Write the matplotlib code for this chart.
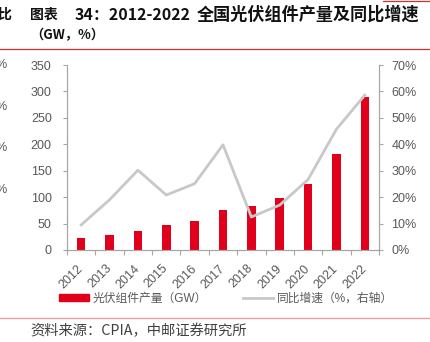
import numpy as np
import matplotlib
matplotlib.use('agg')
from matplotlib import pyplot as plt
from matplotlib.ticker import FuncFormatter, FixedLocator
from matplotlib.lines import Line2D

plt.rcParams['font.family'] = ['Liberation Sans', 'Noto Sans CJK SC', 'DejaVu Sans']

years = ['2012', '2013', '2014', '2015', '2016', '2017', '2018', '2019', '2020', '2021', '2022']
output_gw = [23.5, 27.7, 35.8, 46.5, 54, 75.4, 84, 98.7, 125, 182, 289]
growth_pct = [9.5, 19.0, 30.2, 20.8, 25.1, 39.8, 12.5, 17.0, 26.7, 45.7, 58.6]

red = '#E0001B'
grey_line = '#C8C8C8'
axis_grey = '#A6A6A6'
txt_grey = '#595959'
cjk = ['Noto Sans CJK SC', 'DejaVu Sans']

W, H = 430, 342
fig = plt.figure(figsize=(W / 100, H / 100), dpi=100)
ax = fig.add_axes([67 / W, 1 - 250 / H, 312 / W, 185 / H])

x = np.arange(len(years))
ax.bar(x, output_gw, width=0.3, color=red, zorder=2)
ax.set_xlim(-0.5, len(years) - 0.5)
ax.set_ylim(0, 350)
ax.set_yticks(np.arange(0, 351, 50))

ax.set_xticks(x)
ax.set_xticklabels(years, rotation=45, ha='right', va='center', rotation_mode='anchor')
ax.xaxis.set_minor_locator(FixedLocator(np.arange(-0.5, len(years), 1.0)))
ax.tick_params(axis='x', which='major', length=0, pad=12, labelsize=9, labelcolor=txt_grey)
ax.tick_params(axis='x', which='minor', length=3.5, width=0.8, color=axis_grey, direction='out')
ax.tick_params(axis='y', length=3, width=0.8, color=axis_grey, labelsize=9, labelcolor=txt_grey, pad=8)

for s in ['left', 'bottom', 'right']:
    ax.spines[s].set_color(axis_grey)
    ax.spines[s].set_linewidth(0.8)
ax.spines['top'].set_visible(False)

ax2 = ax.twinx()
ax2.plot(x, np.array(growth_pct) / 100, color=grey_line, lw=2)
ax2.set_ylim(0, 0.7)
ax2.set_yticks(np.arange(0, 0.71, 0.1))
ax2.yaxis.set_major_formatter(FuncFormatter(lambda v, p: '{:.0f}%'.format(v * 100)))
ax2.tick_params(axis='y', length=3, width=0.8, color=axis_grey, labelsize=9, labelcolor=txt_grey, pad=6)
for s in ['left', 'bottom', 'right']:
    ax2.spines[s].set_color(axis_grey)
    ax2.spines[s].set_linewidth(0.8)
ax2.spines['top'].set_visible(False)

handles = [plt.Rectangle((0, 0), 1, 1, color=red),
           Line2D([0], [0], color=grey_line, lw=2)]
fig.legend(handles, ['光伏组件产量（GW）', '同比增速（%，右轴）'], loc='center left',
           bbox_to_anchor=(48 / W, 1 - 299 / H), ncol=2, frameon=False, fontsize=8.5,
           handlelength=2.6, handleheight=0.5, columnspacing=3.0, handletextpad=0.3,
           labelcolor=txt_grey)

# title block
fig.text(30 / W, 1 - 15 / H, '图表', family=cjk, fontweight='bold', fontsize=10,
         color='#111111', va='center', ha='left')
fig.text(75 / W, 1 - 15 / H, '34：2012-2022', family=cjk, fontweight='bold', fontsize=11.5,
         color='#111111', va='center', ha='left')
fig.text(197 / W, 1 - 15 / H, '全国光伏组件产量及同比增速', family=cjk, fontweight='bold',
         fontsize=12.3, color='#111111', va='center', ha='left')
fig.text(30 / W, 1 - 35 / H, '（GW，%）', family=cjk, fontweight='bold', fontsize=9.5,
         color='#111111', va='center', ha='left')
fig.add_artist(Line2D([0, 1], [1 - 48.5 / H, 1 - 48.5 / H], color='#D03030', lw=0.9))
fig.add_artist(Line2D([383 / W, 1], [1 - 0.5 / H, 1 - 0.5 / H], color='#D03030', lw=0.9))
fig.add_artist(Line2D([0, 1], [1 - 318 / H, 1 - 318 / H], color='#E8A0A0', lw=1.0))
fig.text(30 / W, 1 - 331 / H, '资料来源：CPIA，中邮证券研究所', family=cjk,
         fontsize=10.3, color='#404040', va='center', ha='left')

# fragments of the neighbouring chart on the left edge
fig.text(-3 / W, 1 - 15 / H, '比', family=cjk, fontweight='bold',
         fontsize=10, color='#111111', va='center', ha='left')
for yy in [65, 107, 148, 190]:
    fig.text(-4 / W, 1 - yy / H, '%', fontsize=9, color=txt_grey, va='center', ha='left')

fig.savefig('out.png', dpi=100)
